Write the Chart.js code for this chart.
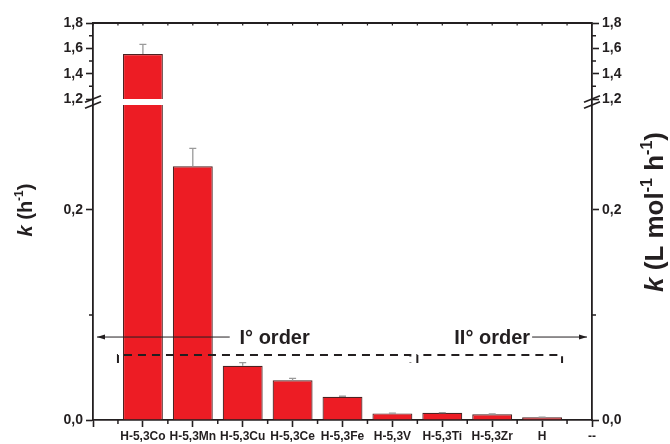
<!DOCTYPE html>
<html>
<head>
<meta charset="utf-8">
<script src="https://cdn.jsdelivr.net/npm/chart.js@4.4.1/dist/chart.umd.min.js"></script>
<style>
html,body{margin:0;padding:0;background:#fff;}
#wrap{width:670px;height:444px;}
</style>
</head>
<body>
<div id="wrap"><canvas id="c" width="670" height="444"></canvas></div>
<script>
// ---- data ----
const categories = ['H-5,3Co','H-5,3Mn','H-5,3Cu','H-5,3Ce','H-5,3Fe','H-5,3V','H-5,3Ti','H-5,3Zr','H','--'];
const kValues = [1.555, 0.2416, 0.0517, 0.0378, 0.0222, 0.0063, 0.0068, 0.0054, 0.0026, null];
const kErrors = [0.077, 0.0171, 0.0029, 0.0019, 0.0004, 0.0003, 0.0003, 0.0003, 0.0002, null];
const upperTicks = [1.2, 1.4, 1.6, 1.8];
const upperMinor = [1.3, 1.5, 1.7];
const lowerTicks = [0.0, 0.2];
const lowerMinor = [0.1];
const upperRange = [1.2, 1.8];
const lowerRange = [0, 0.3057];   // axis range of the lower panel (includes the small break gap)
const breakAt = 0.3;              // lower panel is cut at this value
const xRange = [-1, 9];

const INK = '#231f20';
const FONT = '"Liberation Sans", Arial, Helvetica, sans-serif';

const fmt = v => v.toFixed(1).replace('.', ',');

const lowerData = [];
const upperData = [];
kValues.forEach((v, i) => {
  if (v === null) return;
  lowerData.push({x: i, y: v});
  if (v > upperRange[0]) upperData.push({x: i, y: v});
});

function yAxis(pos, stack, range, ticks, weight, stackWeight, width) {
  return {
    type: 'linear', position: pos, stack: stack, weight: weight, stackWeight: stackWeight,
    min: range[0], max: range[1],
    afterBuildTicks: s => { s.ticks = ticks.map(v => ({value: v})); },
    afterFit: s => { s.width = width; },
    grid: {drawOnChartArea: false, tickLength: 7, tickWidth: 1.6, tickColor: INK},
    border: {display: true, color: INK, width: 1.8},
    ticks: {
      autoSkip: false,
      callback: v => fmt(v), color: INK, padding: 3,
      font: {family: FONT, size: 14, weight: 'bold'}
    }
  };
}

function drawArrow(ctx, x1, x2, y) {
  ctx.beginPath();
  ctx.moveTo(x1, y); ctx.lineTo(x2, y);
  ctx.lineWidth = 1; ctx.strokeStyle = INK; ctx.stroke();
  const dir = Math.sign(x2 - x1);
  ctx.beginPath();
  ctx.moveTo(x2, y);
  ctx.lineTo(x2 - dir * 8, y - 2.5);
  ctx.lineTo(x2 - dir * 8, y + 2.5);
  ctx.closePath();
  ctx.fillStyle = INK; ctx.fill();
}

function drawRich(ctx, parts, cx, cy, size) {
  const fontFor = p => `${p.italic ? 'italic ' : ''}bold ${p.sup ? Math.round(size * 0.6) : size}px ${FONT}`;
  let total = 0;
  parts.forEach(p => { ctx.font = fontFor(p); p.w = ctx.measureText(p.t).width; total += p.w; });
  let x = cx - total / 2;
  const base = cy + size * 0.36;
  ctx.fillStyle = INK;
  ctx.textAlign = 'left';
  ctx.textBaseline = 'alphabetic';
  parts.forEach(p => {
    ctx.font = fontFor(p);
    ctx.fillText(p.t, x, p.sup ? base - size * 0.45 : base);
    x += p.w;
  });
}

const decor = {
  id: 'decor',
  beforeDatasetDraw(chart, args) {
    const ds = chart.data.datasets[args.index];
    const ys = chart.scales[ds.yAxisID];
    const ca = chart.chartArea;
    const top = ds.yAxisID === 'yLow' ? ys.getPixelForValue(breakAt) : ys.top;
    const ctx = chart.ctx;
    ctx.save();
    ctx.beginPath();
    ctx.rect(ca.left - 2, top, ca.right - ca.left + 4, ys.bottom - top);
    ctx.clip();
  },
  afterDatasetDraw(chart) { chart.ctx.restore(); },
  afterDatasetsDraw(chart) {
    const ctx = chart.ctx;
    const xs = chart.scales.x, yUp = chart.scales.yUp, yLow = chart.scales.yLow;
    ctx.save();
    ctx.strokeStyle = '#9a9a9a';
    ctx.lineWidth = 1.3;
    kValues.forEach((v, i) => {
      if (v === null || kErrors[i] === null) return;
      const ys = v > upperRange[0] ? yUp : yLow;
      const px = xs.getPixelForValue(i);
      const y0 = ys.getPixelForValue(v);
      const y1 = ys.getPixelForValue(v + kErrors[i]);
      ctx.beginPath();
      ctx.moveTo(px, y0); ctx.lineTo(px, y1);
      ctx.moveTo(px - 3.5, y1); ctx.lineTo(px + 3.5, y1);
      ctx.stroke();
    });
    ctx.restore();
  },
  afterDraw(chart) {
    const ctx = chart.ctx;
    const ca = chart.chartArea;
    const xs = chart.scales.x, yUp = chart.scales.yUp, yLow = chart.scales.yLow;
    ctx.save();
    ctx.strokeStyle = INK;
    ctx.lineWidth = 1.8;
    ctx.beginPath();
    ctx.moveTo(ca.left, ca.top); ctx.lineTo(ca.right, ca.top);
    ctx.stroke();
    ctx.lineWidth = 1.2;
    for (let v = xRange[0]; v <= xRange[1]; v += 0.5) {
      const px = xs.getPixelForValue(v);
      ctx.beginPath();
      ctx.moveTo(px, ca.top); ctx.lineTo(px, ca.top + 2.5);
      ctx.stroke();
      if (v % 1 !== 0) {
        ctx.lineWidth = 1.5;
        ctx.beginPath();
        ctx.moveTo(px, ca.bottom); ctx.lineTo(px, ca.bottom + 4);
        ctx.stroke();
        ctx.lineWidth = 1.2;
      }
    }
    ctx.lineWidth = 1.5;
    const minors = [[yUp, upperMinor], [yLow, lowerMinor]];
    minors.forEach(([s, arr]) => arr.forEach(v => {
      const py = s.getPixelForValue(v);
      ctx.beginPath();
      ctx.moveTo(ca.left, py); ctx.lineTo(ca.left - 4, py);
      ctx.moveTo(ca.right, py); ctx.lineTo(ca.right + 4, py);
      ctx.stroke();
    }));
    const bUp = yUp.getPixelForValue(upperRange[0]);
    const bLow = yLow.getPixelForValue(breakAt);
    ctx.lineWidth = 1.6;
    [ca.left, ca.right].forEach(ax => {
      [bUp, bLow].forEach(by => {
        ctx.beginPath();
        ctx.moveTo(ax - 8, by + 3.2); ctx.lineTo(ax + 8, by - 3.2);
        ctx.stroke();
      });
    });
    const yArrow = yLow.getPixelForValue(0.079);
    drawArrow(ctx, xs.getPixelForValue(1.74), xs.getPixelForValue(-0.92), yArrow);
    drawArrow(ctx, xs.getPixelForValue(7.8), xs.getPixelForValue(8.9), yArrow);
    ctx.fillStyle = INK;
    ctx.font = `bold 20px ${FONT}`;
    ctx.textAlign = 'center';
    ctx.textBaseline = 'middle';
    ctx.fillText('I° order', xs.getPixelForValue(2.64), yArrow + 1);
    ctx.fillText('II° order', xs.getPixelForValue(7.0), yArrow + 1);
    const yTop = yLow.getPixelForValue(0.0619), yEnd = yLow.getPixelForValue(0.0543);
    ctx.setLineDash([8, 6]);
    ctx.lineWidth = 2;
    [[-0.5, 5.36], [5.5, 8.4]].forEach(([a, b]) => {
      const x1 = xs.getPixelForValue(a), x2 = xs.getPixelForValue(b);
      ctx.beginPath();
      ctx.moveTo(x1, yEnd); ctx.lineTo(x1, yTop); ctx.lineTo(x2, yTop); ctx.lineTo(x2, yEnd);
      ctx.stroke();
    });
    ctx.setLineDash([]);
    ctx.save();
    ctx.translate(25, 210);
    ctx.rotate(-Math.PI / 2);
    drawRich(ctx, [{t: 'k', italic: true}, {t: ' (h'}, {t: '-1', sup: true}, {t: ')'}], 0, 0, 20);
    ctx.restore();
    ctx.save();
    ctx.translate(654, 212);
    ctx.rotate(-Math.PI / 2);
    drawRich(ctx, [{t: 'k', italic: true}, {t: ' (L mol'}, {t: '-1', sup: true}, {t: ' h'}, {t: '-1', sup: true}, {t: ')'}], 0, 0, 26);
    ctx.restore();
    ctx.restore();
  }
};

const barStyle = {
  backgroundColor: '#ED1C24',
  borderColor: '#4d2222',
  borderWidth: 1.2,
  barPercentage: 0.8,
  categoryPercentage: 1.0
};

new Chart(document.getElementById('c'), {
  type: 'bar',
  data: {
    datasets: [
      Object.assign({label: 'k lower', data: lowerData, yAxisID: 'yLow', xAxisID: 'x'}, barStyle),
      Object.assign({label: 'k upper', data: upperData, yAxisID: 'yUp', xAxisID: 'x'}, barStyle)
    ]
  },
  options: {
    responsive: false,
    devicePixelRatio: 1,
    animation: false,
    grouped: false,
    layout: {padding: {top: 23, left: 0, right: 0, bottom: 0}},
    plugins: {legend: {display: false}, tooltip: {enabled: false}},
    scales: {
      x: {
        type: 'linear', position: 'bottom', min: xRange[0], max: xRange[1],
        offset: false,
        afterBuildTicks: s => {
          const t = [];
          for (let v = xRange[0]; v <= xRange[1]; v++) t.push({value: v});
          s.ticks = t;
        },
        afterFit: s => { s.height = 24; },
        grid: {drawOnChartArea: false, offset: false, tickLength: 7, tickWidth: 1.6, tickColor: INK},
        border: {display: true, color: INK, width: 1.8},
        ticks: {
          autoSkip: false, maxRotation: 0, padding: 2, color: INK,
          font: {family: FONT, size: 12, weight: 'bold'},
          callback: v => (v >= 0 && v < categories.length) ? categories[v] : ''
        }
      },
      yUp: yAxis('left', 'L', upperRange, upperTicks, 2, 76, 93),
      yLow: yAxis('left', 'L', lowerRange, lowerTicks, 1, 321, 93),
      yUpR: yAxis('right', 'R', upperRange, upperTicks, 1, 76, 78),
      yLowR: yAxis('right', 'R', lowerRange, lowerTicks, 2, 321, 78)
    }
  },
  plugins: [decor]
});
</script>
</body>
</html>
